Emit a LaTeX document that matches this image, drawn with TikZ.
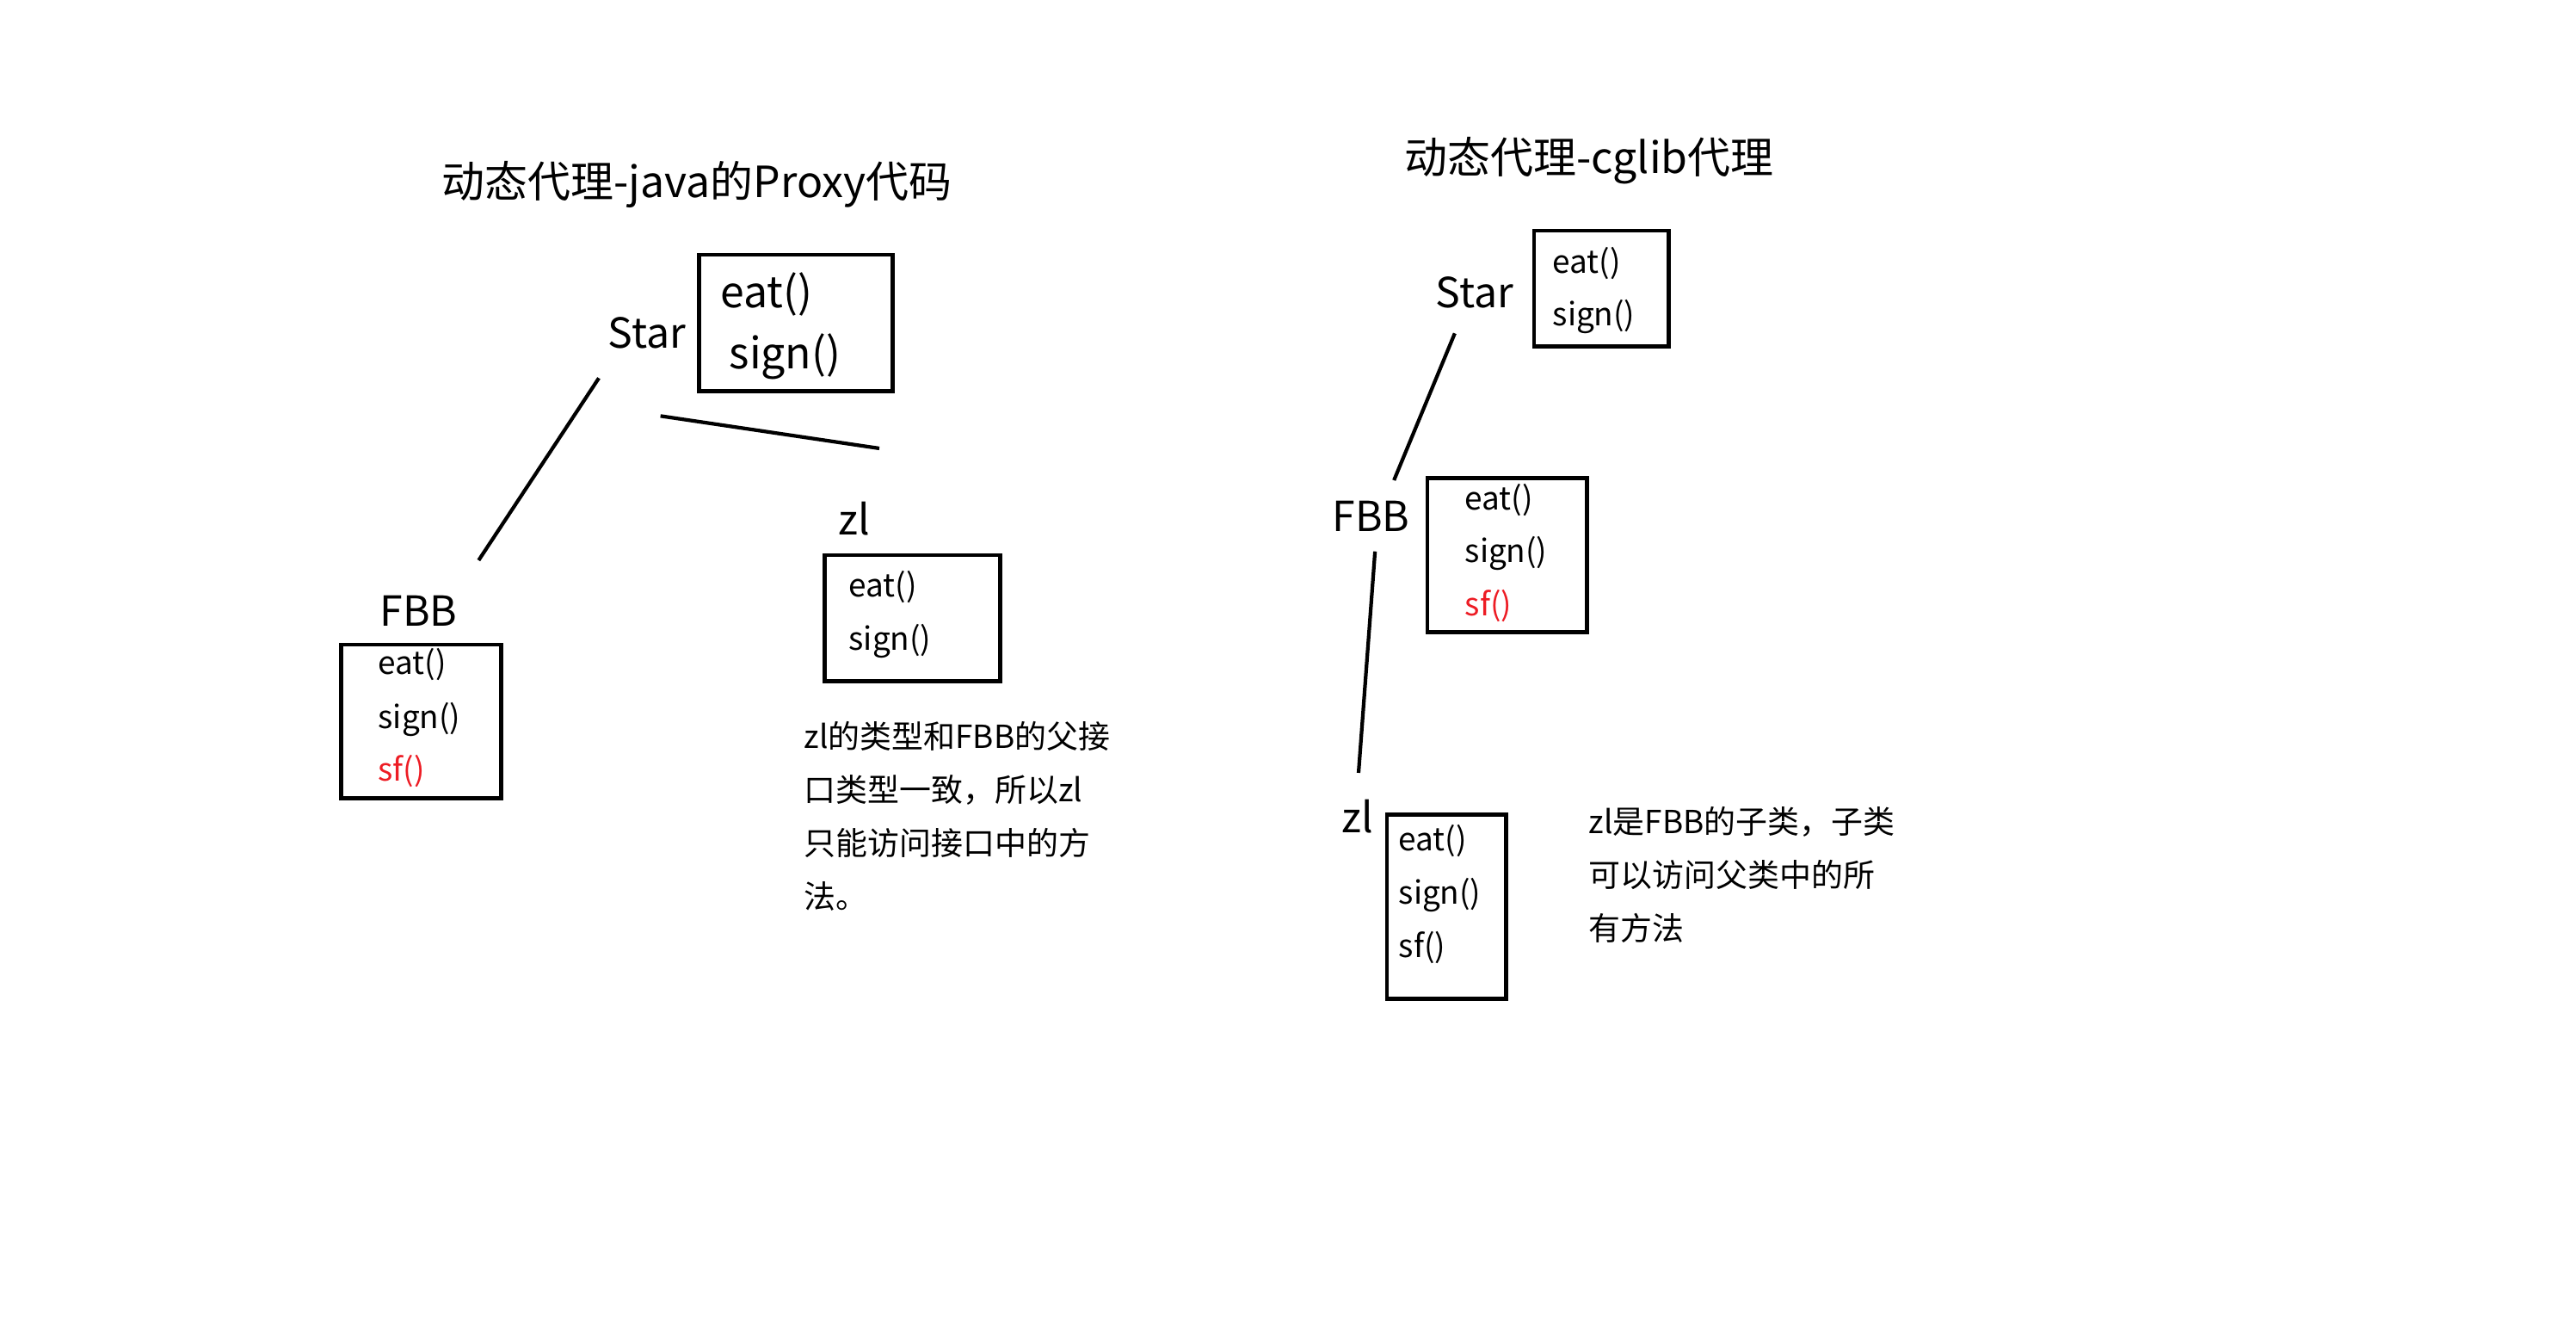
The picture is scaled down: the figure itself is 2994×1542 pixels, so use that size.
\documentclass[tikz,border=0pt]{standalone}
\usepackage{fontspec}
\setmainfont{Noto Sans CJK SC}
\usetikzlibrary{positioning}
\definecolor{MetodoRojo}{RGB}{237,28,36}
\tikzstyle{Titulo}=[inner sep=0pt, font=\fontsize{14.2}{17}\selectfont, anchor=base]
\tikzstyle{ClassName}=[inner sep=0pt, font=\fontsize{13.7}{16}\selectfont, anchor=base west]
\tikzstyle{ClassBox}=[rectangle, draw=black, line width=1.4pt, inner sep=0pt]
\tikzstyle{Method}=[inner sep=0pt, font=\fontsize{10.5}{12}\selectfont, anchor=base west]
\tikzstyle{BigMethod}=[Method, font=\fontsize{14.2}{17}\selectfont]
\tikzstyle{Note}=[inner sep=0pt, align=left, font=\fontsize{10.5}{17.6}\selectfont, anchor=base west]
\tikzstyle{Link}=[line width=1.2pt]

\begin{document}
\begin{tikzpicture}[x=0.01cm, y=-0.01cm]
			\useasboundingbox (0,0) rectangle (2994,1542);

			%Titulos
			\node[Titulo]	(title_java)	at (810,229)	{动态代理-java的Proxy代码};
			\node[Titulo]	(title_cglib)	at (1847,201)	{动态代理-cglib代理};

			%Nodos - java Proxy
			\node[ClassName]	(star_j)	at (706,404)	{Star};
			\node[ClassBox, minimum width=2.24cm, minimum height=1.58cm]	(star_j_box)	at (925,375)	{};
			\node[BigMethod]	(star_j_eat)	at (837,357)	{eat()};
			\node[BigMethod]	(star_j_sign)	at (847,428)	{sign()};

			\node[ClassName]	(fbb_j)		at (441,727)	{FBB};
			\node[ClassBox, minimum width=1.85cm, minimum height=1.78cm]	(fbb_j_box)	at (489.5,838)	{};
			\node[Method]	(fbb_j_eat)	at (439,783)	{eat()};
			\node[Method]	(fbb_j_sign)	at (439,846)	{sign()};
			\node[Method, text=MetodoRojo]	(fbb_j_sf)	at (439,907)	{sf()};

			\node[ClassName]	(zl_j)		at (974,621)	{zl};
			\node[ClassBox, minimum width=2.03cm, minimum height=1.46cm]	(zl_j_box)	at (1060.5,718)	{};
			\node[Method]	(zl_j_eat)	at (986,693)	{eat()};
			\node[Method]	(zl_j_sign)	at (986,755)	{sign()};

			% base = ultima linea
			\node[Note]	(note_j)	at (934,1055)	{zl的类型和FBB的父接\\口类型一致，所以zl\\只能访问接口中的方\\法。};

			%Nodos - cglib
			\node[ClassName]	(star_c)	at (1668,357)	{Star};
			\node[ClassBox, minimum width=1.56cm, minimum height=1.34cm]	(star_c_box)	at (1861,335)	{};
			\node[Method]	(star_c_eat)	at (1804,317)	{eat()};
			\node[Method]	(star_c_sign)	at (1804,378)	{sign()};

			\node[ClassName]	(fbb_c)		at (1548,617)	{FBB};
			\node[ClassBox, minimum width=1.85cm, minimum height=1.78cm]	(fbb_c_box)	at (1751.5,645)	{};
			\node[Method]	(fbb_c_eat)	at (1702,592)	{eat()};
			\node[Method]	(fbb_c_sign)	at (1702,653)	{sign()};
			\node[Method, text=MetodoRojo]	(fbb_c_sf)	at (1702,715)	{sf()};

			\node[ClassName]	(zl_c)		at (1559,967)	{zl};
			\node[ClassBox, minimum width=1.38cm, minimum height=2.13cm]	(zl_c_box)	at (1681,1053.5)	{};
			\node[Method]	(zl_c_eat)	at (1625,988)	{eat()};
			\node[Method]	(zl_c_sign)	at (1625,1050)	{sign()};
			\node[Method]	(zl_c_sf)	at (1625,1112)	{sf()};

			\node[Note]	(note_c)	at (1846,1092)	{zl是FBB的子类，子类\\可以访问父类中的所\\有方法};

			%Lineas
			\draw[Link] ([shift={(-10,34)}]star_j.south west) -- ([shift={(24,-40)}]fbb_j.north east);
			\draw[Link] ([shift={(-30,78)}]star_j.south east) -- ([shift={(10,-61)}]zl_j.north east);
			\draw[Link] ([shift={(-23,29)}]star_c.south) -- ([shift={(26.5,-23)}]fbb_c.north);
			\draw[Link] ([shift={(4.5,23)}]fbb_c.south) -- ([shift={(1,-30)}]zl_c.north);

		\end{tikzpicture}
\end{document}
